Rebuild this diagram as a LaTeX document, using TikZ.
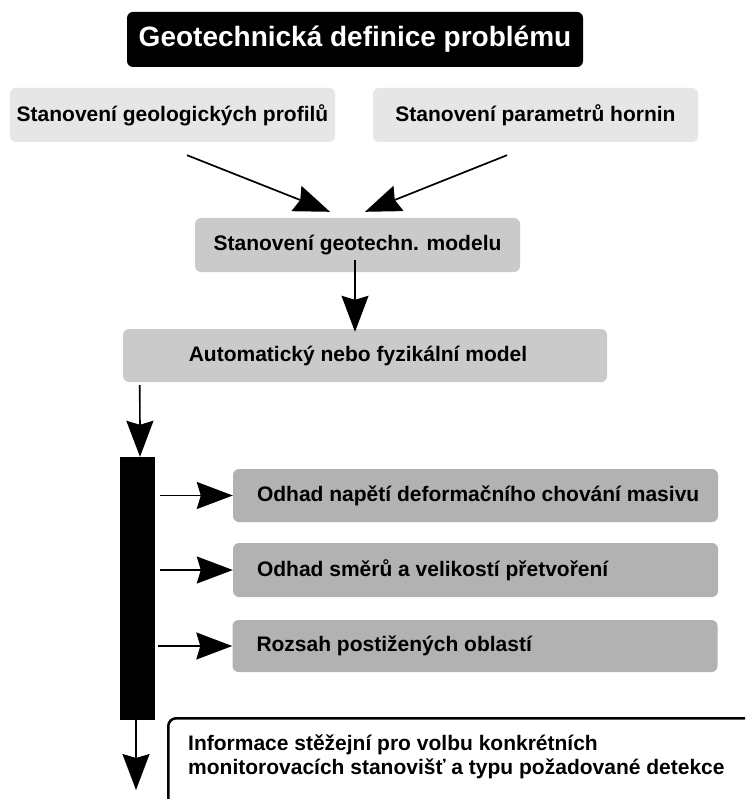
\documentclass[tikz,border=0pt]{standalone}
\usepackage{fontspec}
\setmainfont{Liberation Sans}
\usetikzlibrary{arrows.meta,calc}
\definecolor{boxA}{HTML}{E6E6E6}
\definecolor{boxB}{HTML}{CACACA}
\definecolor{boxC}{HTML}{B2B2B2}
\newcommand{\lefttext}[1]{\makebox[461pt][l]{\hspace*{12pt}#1}}
\begin{document}
\begin{tikzpicture}[x=1pt,y=-1pt,
  box/.style={rectangle,rounded corners=6pt,inner sep=0pt,font=\bfseries\fontsize{21}{24}\selectfont},
  lbox/.style={box,fill=boxC,minimum width=485pt,inner xsep=12pt},
  arr/.style={line width=1.7pt,-{Stealth[length=36pt,width=27pt,inset=4pt]}},
]
\clip (0,0) rectangle (745,799);
\fill[white] (0,0) rectangle (745,799);
% title
\node[box,fill=black,text=white,minimum width=456pt,minimum height=55pt,
  font=\bfseries\fontsize{28}{32}\selectfont] (title) at (355,39.5) {Geotechnická definice problému};
% top boxes
\node[box,fill=boxA,minimum width=325pt,minimum height=54pt] (b1) at (172.5,115) {Stanovení geologických profilů};
\node[box,fill=boxA,minimum width=325pt,minimum height=54pt] (b2) at (535.5,115) {Stanovení parametrů hornin};
\node[box,fill=boxB,minimum width=325pt,minimum height=54pt] (b3) at (357.5,245) {Stanovení geotechn. modelu};
\node[box,fill=boxB,minimum width=484pt,minimum height=53pt] (b4) at (365,355.5) {\hspace*{-14pt}Automatický nebo fyzikální model};
% bar
\node[rectangle,fill=black,inner sep=0pt,minimum width=35pt,minimum height=263pt] (bar) at (137.5,588.5) {};
% right boxes
\node[lbox,minimum height=53pt] (b5) at (475.5,495.5) {\lefttext{Odhad napětí deformačního chování masivu}};
\node[lbox,minimum height=54pt] (b6) at (475.5,570) {\lefttext{Odhad směrů a velikostí přetvoření}};
\node[lbox,minimum height=52pt] (b7) at (475,646) {\lefttext{Rozsah postižených oblastí}};
% final box
\node[rectangle,rounded corners=8pt,draw=black,line width=2.5pt,fill=white,anchor=north west,
  minimum width=610pt,minimum height=120pt,inner sep=0pt] (fin) at (167,717) {};
\node[anchor=north west,inner sep=0pt,align=left,font=\bfseries\fontsize{21}{24}\selectfont] (fintext) at (188,735)
  {Informace stěžejní pro volbu konkrétních\\monitorovacích stanovišť a typu požadované detekce};
% arrows
\draw[arr] ($(b1.south)+(14.5,13)$) -- ($(b3.north)+(-27.5,-6)$);
\draw[arr] ($(b2.south)+(-28.5,13)$) -- ($(b3.north)+(7.5,-6)$);
\draw[arr] ($(b3.south)+(-2.5,-12)$) -- ($(b4.north)+(-10,3)$);
\draw[arr] ($(b4.south west)+(17,3)$) -- ($(bar.north)+(2.5,0)$);
\draw[arr,shorten <=5pt] (bar.east |- b5.west) -- (b5.west);
\draw[arr,shorten <=5pt] (bar.east |- b6.west) -- (b6.west);
\draw[arr,shorten <=3pt] (bar.east |- b7.west) -- (b7.west);
\coordinate (out) at (136,790);
\draw[arr] (bar.south -| out) -- (out);
\end{tikzpicture}
\end{document}
